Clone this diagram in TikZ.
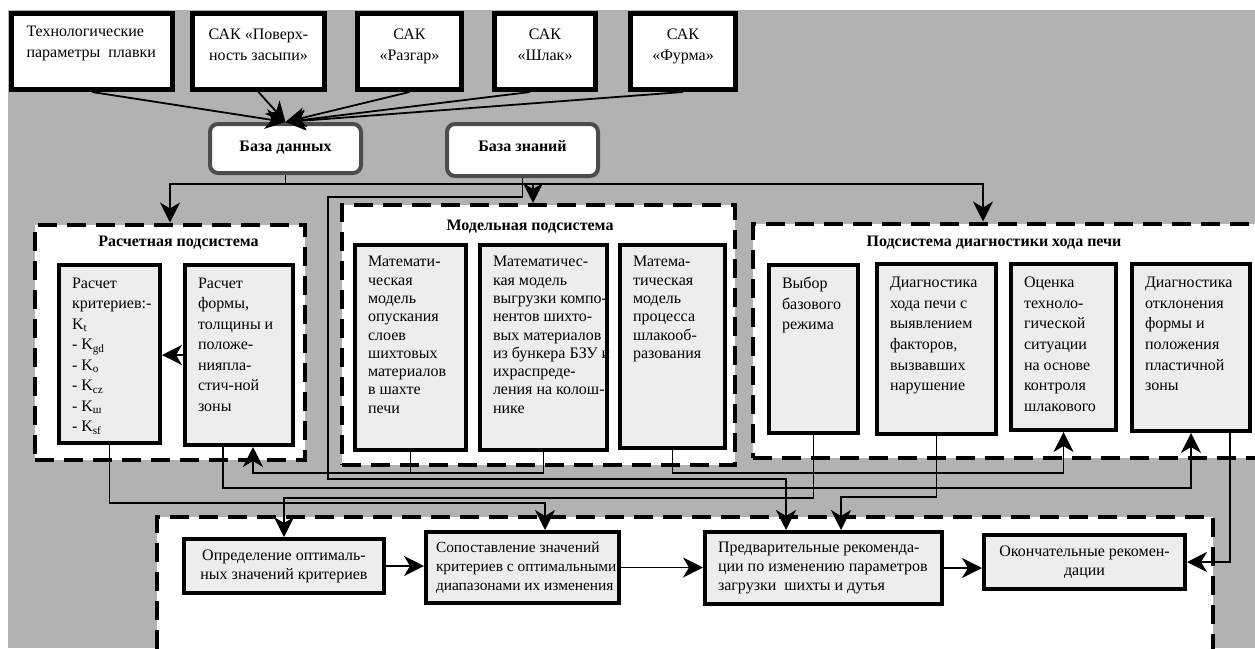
\documentclass[tikz,border=0pt]{standalone}
\usepackage{fontspec}
\setmainfont{Liberation Serif}
\usetikzlibrary{arrows.meta}

\definecolor{bggrey}{gray}{0.70}
\definecolor{cellgrey}{gray}{0.93}
\definecolor{dbgrey}{gray}{0.30}

\newcommand{\celltext}[3]{\parbox[t][#2][t]{#1}{\vspace*{-3pt}\begin{tabular}[t]{@{}l@{}}#3\end{tabular}}}
\newcommand{\ctrtext}[3]{\parbox[t][#2][t]{#1}{\centering\begin{tabular}[t]{@{}c@{}}#3\end{tabular}}}
\newcommand{\rowtext}[2]{\parbox{#1}{\begin{tabular}{@{}l@{}}#2\end{tabular}}}

\tikzset{
  src/.style={draw=black, line width=5pt, fill=white, inner xsep=8pt, inner ysep=11pt, font=\fontsize{16}{21}\selectfont},
  base/.style={draw=dbgrey, line width=4pt, fill=white, rounded corners=8pt, inner xsep=10pt, inner ysep=13pt, font=\fontsize{16}{20}\selectfont\bfseries},
  subsys/.style={draw=black, line width=4pt, fill=white, dash pattern=on 19pt off 10pt, inner sep=0pt},
  cell/.style={draw=black, line width=4pt, fill=cellgrey, inner xsep=13pt, inner ysep=12pt, font=\fontsize{16}{20.5}\selectfont},
  outbox/.style={draw=black, line width=4pt, fill=cellgrey, font=\fontsize{16}{19}\selectfont},
  title/.style={font=\fontsize{16}{20}\selectfont\bfseries, inner sep=0pt},
  wire/.style={draw=black, line width=1.8pt},
  conn/.style={wire, -{Stealth[length=20pt,width=20pt,inset=6pt]}},
}

\begin{document}
\begin{tikzpicture}[x=1pt, y=-1pt]
    \useasboundingbox (0,0) rectangle (1255,648);
    \clip (0,0) rectangle (1255,648);
    \fill[bggrey] (8,10) rectangle (1255,648);

    % sources
    \node[src, inner xsep=15pt] (tp1) at (92,51.5) {\celltext{131pt}{54pt}{Технологические\\параметры\ \ плавки}};
    \node[src] (tp2) at (258.5,51.5) {\ctrtext{116pt}{54pt}{САК «Поверх-\\ность засыпи»}};
    \node[src] (tp3) at (409.5,51.5) {\ctrtext{88pt}{54pt}{САК\\«Разгар»}};
    \node[src] (tp4) at (545,51.5) {\ctrtext{85pt}{54pt}{САК\\«Шлак»}};
    \node[src] (tp5) at (683,51.5) {\ctrtext{89pt}{54pt}{САК\\«Фурма»}};

    \node[base] (db) at (285.5,148.5) {\ctrtext{131pt}{23pt}{База данных}};
    \node[base] (kb) at (522.5,150) {\ctrtext{131pt}{26pt}{База знаний}};

    % subsystems
    \node[subsys, minimum width=270pt, minimum height=235.5pt] (calc) at (170,342.25) {};
    \node[subsys, minimum width=393pt, minimum height=260pt] (model) at (538.5,335) {};
    \node[subsys, minimum width=522pt, minimum height=234.5pt] (diag) at (1014,340.75) {};
    \node[subsys, minimum width=1056pt, minimum height=153pt] (out) at (685,593.5) {};

    \node[title] (calct) at (178.5,243) {Расчетная подсистема};
    \node[title] (modelt) at (530,227) {Модельная подсистема};
    \node[title] (diagt) at (994,243) {Подсистема диагностики хода печи};

    \node[cell] (c1) at (109.5,354) {\celltext{75pt}{154pt}{Расчет\\критериев:-\\K\textsubscript{t}\\- K\textsubscript{gd}\\- K\textsubscript{o}\\- K\textsubscript{cz}\\- K\textsubscript{ш}\\- K\textsubscript{sf}}};
    \node[cell] (c2) at (239,355) {\celltext{82pt}{156pt}{Расчет\\формы,\\толщины и\\положе-\\нияпла-\\стич-ной\\зоны}};

    \node[cell, font=\fontsize{16}{18.3}\selectfont] (m1) at (410.5,347.5) {\celltext{85pt}{181pt}{Математи-\\ческая\\модель\\опускания\\слоев\\шихтовых\\материалов\\в шахте\\печи}};
    \node[cell, font=\fontsize{16}{18.3}\selectfont] (m2) at (543.5,347.5) {\celltext{101pt}{181pt}{Математичес-\\кая модель\\выгрузки компо-\\нентов шихто-\\вых материалов\\из бункера БЗУ и\\ихраспреде-\\ления на колош-\\нике}};
    \node[cell, font=\fontsize{16}{18.3}\selectfont] (m3) at (672.5,346.5) {\celltext{79pt}{179pt}{Матема-\\тическая\\модель\\процесса\\шлакооб-\\разования}};

    \node[cell, font=\fontsize{16}{20.7}\selectfont] (d1) at (813.5,349) {\celltext{63pt}{144pt}{Выбор\\базового\\режима}};
    \node[cell, font=\fontsize{16}{20.7}\selectfont] (d2) at (936.5,349) {\celltext{93pt}{146pt}{Диагностика\\хода печи с\\выявлением\\факторов,\\вызвавших\\нарушение}};
    \node[cell, font=\fontsize{16}{20.7}\selectfont] (d3) at (1063.5,347) {\celltext{79pt}{142pt}{Оценка\\техноло-\\гической\\ситуации\\на основе\\контроля\\шлакового}};
    \node[cell, font=\fontsize{16}{20.7}\selectfont] (d4) at (1191,347.5) {\celltext{92pt}{143pt}{Диагностика\\отклонения\\формы и\\положения\\пластичной\\зоны}};

    \node[outbox, minimum width=200pt, minimum height=54pt, align=center] (b1) at (284,566) {Определение оптималь-\\ных значений критериев};
    \node[outbox, minimum height=71pt, inner xsep=10pt, font=\fontsize{15.4}{19}\selectfont] (b2) at (522.5,567.5) {\rowtext{173pt}{Сопоставление значений\\критериев с оптимальными\\диапазонами их изменения}};
    \node[outbox, minimum height=72pt, inner xsep=13pt] (b3) at (823.5,568) {\rowtext{211pt}{Предварительные рекоменда-\\ции по изменению параметров\\загрузки\ \ шихты и дутья}};
    \node[outbox, minimum width=201pt, minimum height=54pt, align=center] (b4) at (1084.5,562) {Окончательные рекомен-\\дации};

    % to the data base
    \draw[conn] (tp1.south) -- (db.north);
    \draw[conn] (tp2.south) -- (db.north);
    \draw[conn] (tp3.south) -- (db.north);
    \draw[conn] ([xshift=-15pt]tp4.south) -- (db.north);
    \draw[conn] (tp5.south) -- (db.north);

    \draw[wire] (db.south) -- ++(0,9) coordinate (dbus);
    \draw[conn] (dbus) -| (calc.north);
    \draw[conn] (dbus) -| ([xshift=-5.5pt]model.north);
    \draw[conn] (dbus) -| ([xshift=-31pt]diag.north);
    \draw[conn] (kb.south) -- ++(0,19) -- ++(-194.5,0) -- ++(0,282) -| ([xshift=-37.5pt]b3.north);

    % between subsystems
    \draw[conn] (c2.west) -- (c2.west -| c1.east);
    \draw[conn] (c1.south) -- ++(0,58) -| ([xshift=22.5pt]b2.north);
    \draw[conn] ([xshift=-16pt]c2.south) -- ++(0,41) -| (d4.south);
    \draw[wire] (m2.south) |- ([yshift=-21pt]m1.south);
    \draw[conn] (m1.south) -- ++(0,21) -| ([xshift=14pt]c2.south);
    \draw[conn] (m3.south) -- ++(0,23) -| (d3.south);
    \draw[conn] (d1.south) -- ++(0,63) -| (b1.north);
    \draw[conn] (d2.south) -- ++(0,61) -| ([xshift=17.5pt]b3.north);
    \draw[conn] ([xshift=39pt]d4.south) |- (b4.east);

    \draw[conn] (b1.east) -- (b1.east -| b2.west);
    \draw[conn] (b2.east) -- (b2.east -| b3.west);
    \draw[conn] (b3.east) -- (b3.east -| b4.west);
\end{tikzpicture}
\end{document}
